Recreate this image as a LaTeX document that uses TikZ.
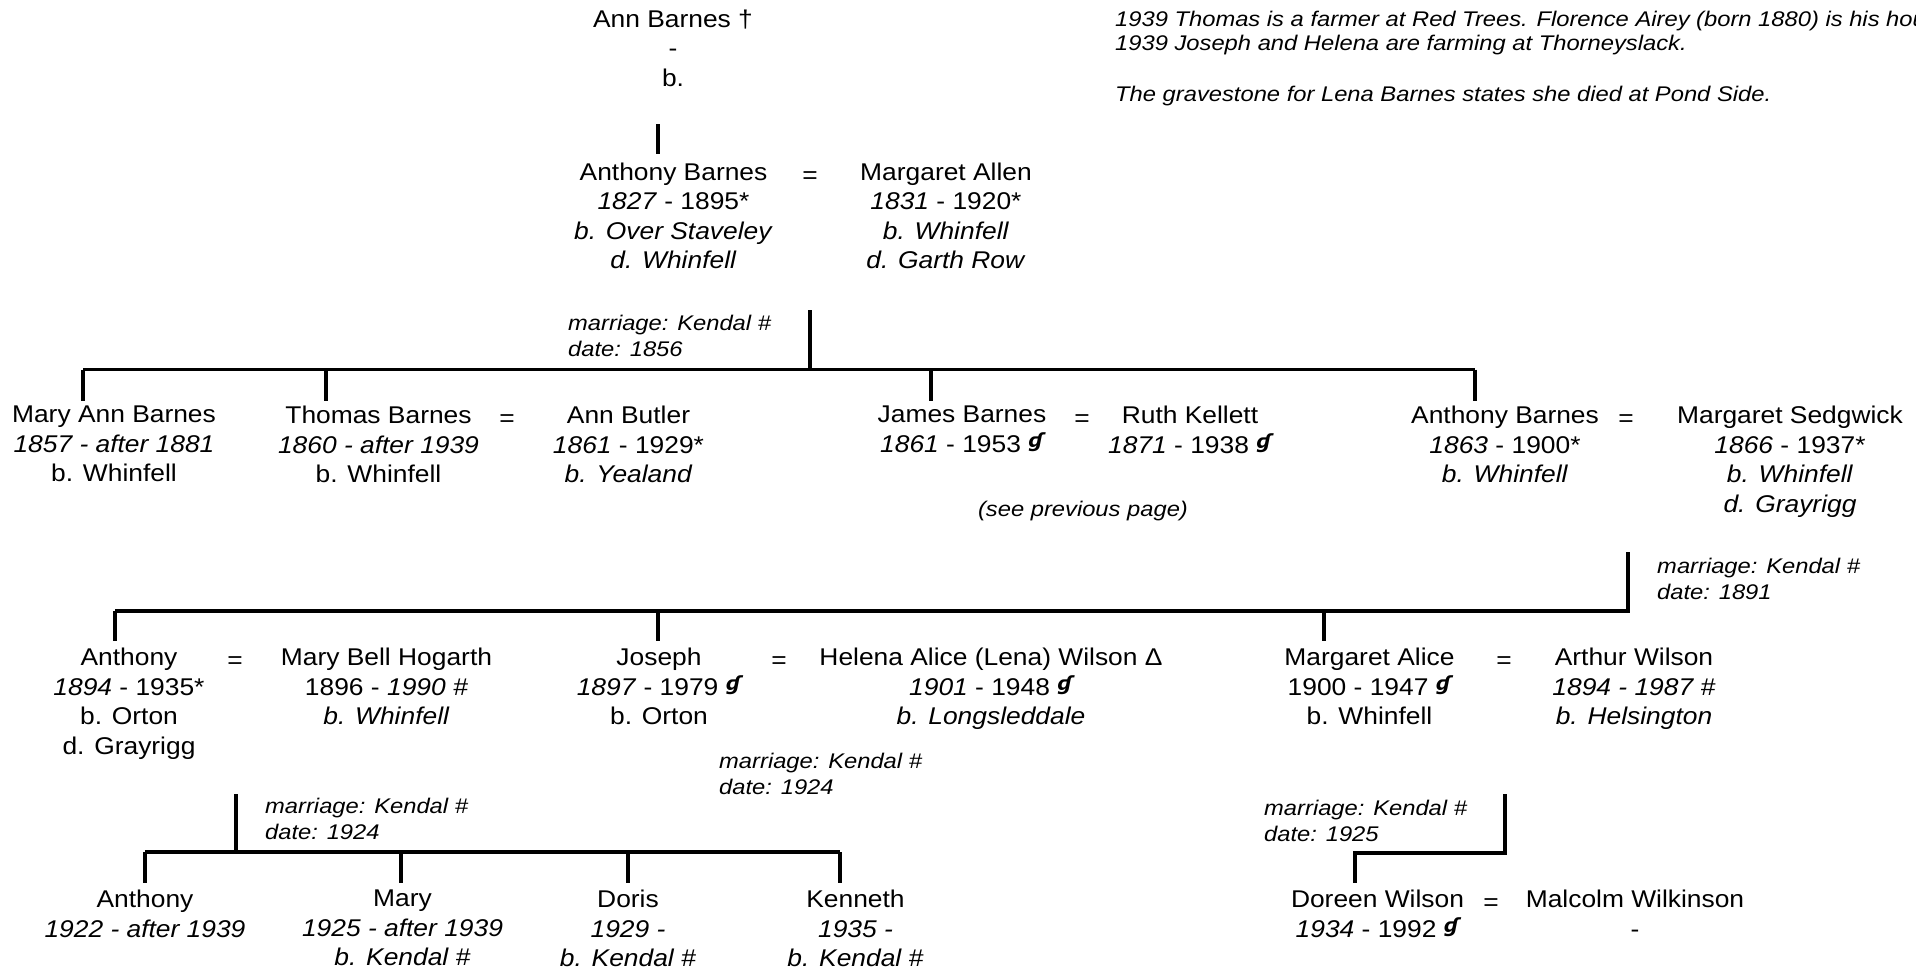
\documentclass[tikz,border=0pt]{standalone}
\usepackage{fontspec}
\setmainfont{Liberation Sans}[FakeStretch=1.09]
\newfontfamily\labfam{Liberation Sans}[FakeStretch=1.12]
\newfontfamily\gsymfont{DejaVu Sans}
\newcommand{\namefont}{\fontsize{24.2}{29.5}\selectfont}
\newcommand{\labfont}{\labfam\fontsize{21.2}{26}\selectfont\itshape}
\newcommand{\notefont}{\labfam\fontsize{21.2}{23.5}\selectfont\itshape}
\newcommand{\gs}{\raisebox{4.6pt}{\gsymfont\bfseries\itshape\fontsize{19.5}{20}\selectfont ɠ}}
\begin{document}
\begin{tikzpicture}[x=1pt,y=-1pt]
\tikzset{
  person/.style={font=\namefont, align=center, inner sep=0pt, anchor=north, execute at begin node=\strut},
  lab/.style={font=\labfont, align=left, inner sep=0pt, anchor=north west, execute at begin node=\strut},
  notes/.style={font=\notefont, align=left, inner sep=0pt, anchor=north west, execute at begin node=\strut},
  eqs/.style={font=\namefont, inner sep=0pt, anchor=base},
  conn/.style={line width=3.5pt},
}
\fill[white] (0,0) rectangle (1916,975);
\useasboundingbox (0,0) rectangle (1916,975);

% notes
\node[notes] (notes) at (1115,11) {1939 Thomas is a farmer at Red Trees. Florence Airey (born 1880) is his housekeeper.\\1939 Joseph and Helena are farming at Thorneyslack.\\[27.5pt]The gravestone for Lena Barnes states she died at Pond Side.};

% generation 0
\node[person] (ann) at (673,9.35) {Ann Barnes †\\-\\b.};

% generation 1
\node[person] (ab1) at (673.5,162.65) {Anthony Barnes\\\textit{1827} - 1895*\\\textit{b. Over Staveley}\\\textit{d. Whinfell}};
\node[eqs] (eq1) at (810,183.3) {=};
\node[person] (mal) at (946,162.65) {Margaret Allen\\\textit{1831} - 1920*\\\textit{b. Whinfell}\\\textit{d. Garth Row}};
\node[lab] (mar1) at (568,315.3) {marriage: Kendal \#\\date: 1856};

% generation 2
\node[person] (mab) at (114,405.85) {Mary Ann Barnes\\\textit{1857 - after 1881}\\b. Whinfell};
\node[person] (tb) at (378.5,405.85) {Thomas Barnes\\\textit{1860 - after 1939}\\b. Whinfell};
\node[eqs] (eq2) at (507,426.5) {=};
\node[person] (abu) at (628.5,405.85) {Ann Butler\\\textit{1861} - 1929*\\\textit{b. Yealand}};
\node[person] (jb) at (962,405.85) {James Barnes\\\textit{1861} - 1953 \gs};
\node[eqs] (eq3) at (1082,426.5) {=};
\node[person] (rk) at (1190,405.85) {Ruth Kellett\\\textit{1871} - 1938 \gs};
\node[lab, anchor=north] (seeprev) at (1083,497.8) {(see previous page)};
\node[person] (ab2) at (1505,405.85) {Anthony Barnes\\\textit{1863} - 1900*\\\textit{b. Whinfell}};
\node[eqs] (eq4) at (1626,426.5) {=};
\node[person] (ms) at (1790,405.85) {Margaret Sedgwick\\\textit{1866} - 1937*\\\textit{b. Whinfell}\\\textit{d. Grayrigg}};
\node[lab] (mar2) at (1657,557.8) {marriage: Kendal \#\\date: 1891};

% generation 3
\node[person] (a3) at (129,647.85) {Anthony\\\textit{1894} - 1935*\\b. Orton\\d. Grayrigg};
\node[eqs] (eq5) at (235,668.5) {=};
\node[person] (mbh) at (386.5,647.85) {Mary Bell Hogarth\\1896 - \textit{1990 \#}\\\textit{b. Whinfell}};
\node[person] (jo) at (659,647.85) {Joseph\\\textit{1897} - 1979 \gs\\b. Orton};
\node[eqs] (eq6) at (779,668.5) {=};
\node[person] (haw) at (991,647.85) {Helena Alice (Lena) Wilson Δ\\\textit{1901} - 1948 \gs\\\textit{b. Longsleddale}};
\node[lab] (mar3) at (719,752.8) {marriage: Kendal \#\\date: 1924};
\node[person] (mga) at (1369.5,647.85) {Margaret Alice\\1900 - 1947 \gs\\b. Whinfell};
\node[eqs] (eq7) at (1504,668.5) {=};
\node[person] (aw) at (1634,647.85) {Arthur Wilson\\\textit{1894 - 1987 \#}\\\textit{b. Helsington}};
\node[lab] (mar4) at (265,797.8) {marriage: Kendal \#\\date: 1924};
\node[lab] (mar5) at (1264,799.8) {marriage: Kendal \#\\date: 1925};

% generation 4
\node[person] (a4) at (145,890.05) {Anthony\\\textit{1922 - after 1939}};
\node[person] (ma) at (402.5,890.05) {Mary\\\textit{1925 - after 1939}\\\textit{b. Kendal \#}};
\node[person] (do) at (628,890.05) {Doris\\\textit{1929 -}\\\textit{b. Kendal \#}};
\node[person] (ke) at (855.5,890.05) {Kenneth\\\textit{1935 -}\\\textit{b. Kendal \#}};
\node[person] (dw) at (1377.5,890.05) {Doreen Wilson\\\textit{1934} - 1992 \gs};
\node[eqs] (eq8) at (1491,910.7) {=};
\node[person] (mw) at (1635,890.05) {Malcolm Wilkinson\\-};

% connectors
\coordinate (c0a) at (658,124); \coordinate (c0b) at (658,154);
\draw[conn] (c0a) -- (c0b);

\coordinate (f1t) at (810,310); \coordinate (f1m) at (810,369.5);
\coordinate (f1l) at (83,369.5); \coordinate (f1r) at (1475,369.5);
\draw[conn] (f1t) -- (f1m);
\draw[conn] (f1l) -- (f1r);
\foreach \x/\n in {83/a,326/b,931/c,1475/d}{
  \coordinate (f1\n) at (\x,369.5);
  \draw[conn] (f1\n) -- ++(0,31);
}

\coordinate (f2t) at (1628,552); \coordinate (f2m) at (1628,611);
\coordinate (f2l) at (115,611);
\draw[conn] (f2t) -- (f2m) -- (f2l);
\foreach \x/\n in {115/a,658/b,1324/c}{
  \coordinate (f2\n) at (\x,611);
  \draw[conn] (f2\n) -- ++(0,30);
}

\coordinate (f3t) at (236,794); \coordinate (f3m) at (236,852);
\coordinate (f3l) at (145,852); \coordinate (f3r) at (840,852);
\draw[conn] (f3t) -- (f3m);
\draw[conn] (f3l) -- (f3r);
\foreach \x/\n in {145/a,401/b,628/c,840/d}{
  \coordinate (f3\n) at (\x,852);
  \draw[conn] (f3\n) -- ++(0,31);
}

\coordinate (f4t) at (1505,794); \coordinate (f4m) at (1505,853);
\coordinate (f4d) at (1355,853); \coordinate (f4e) at (1355,883);
\draw[conn] (f4t) -- (f4m) -- (f4d) -- (f4e);
\end{tikzpicture}
\end{document}
